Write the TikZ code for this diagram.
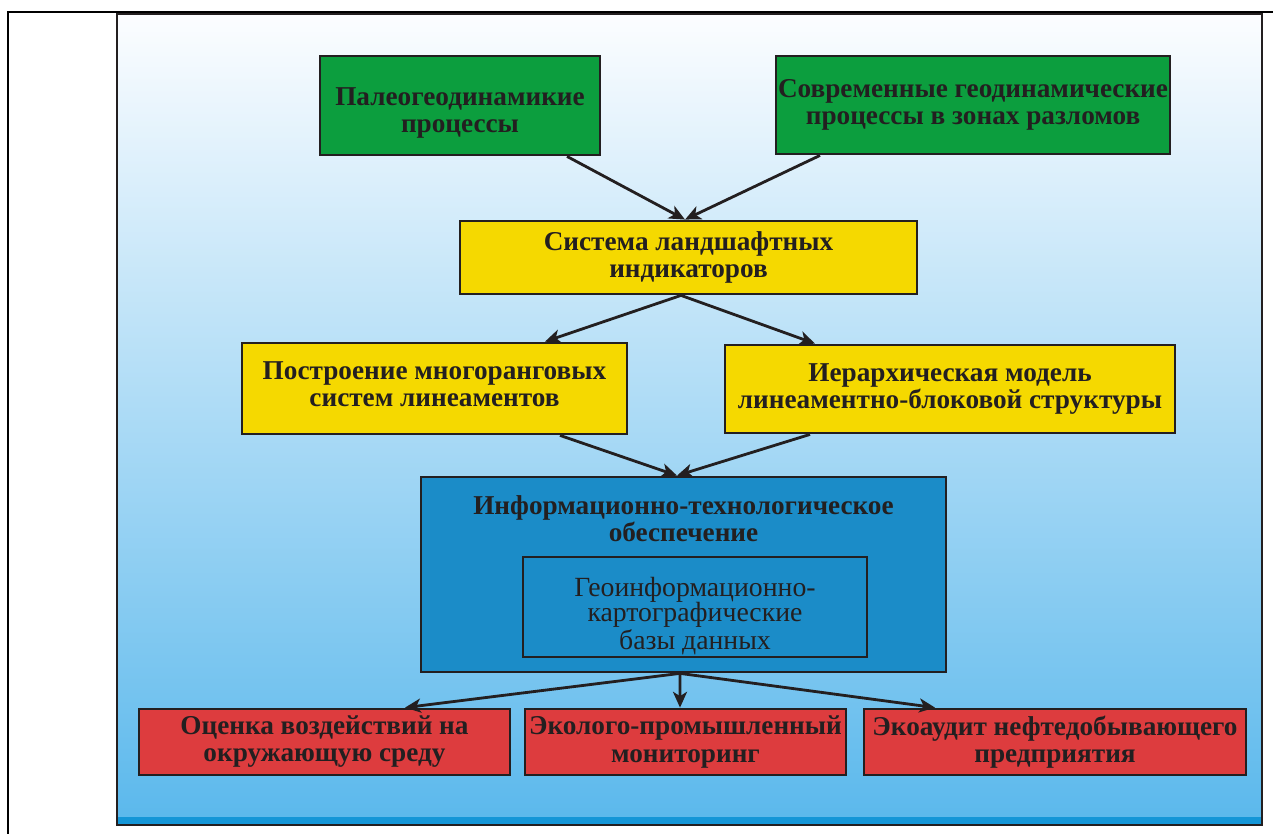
\documentclass[tikz,border=0pt]{standalone}
\usepackage{fontspec}
\setmainfont{Liberation Serif}
\usetikzlibrary{arrows.meta,positioning}
\definecolor{boxgreen}{RGB}{12,158,62}
\definecolor{boxyellow}{RGB}{245,217,0}
\definecolor{boxblue}{RGB}{27,140,200}
\definecolor{boxred}{RGB}{221,60,62}
\definecolor{inkdark}{RGB}{35,31,32}
\definecolor{skytop}{RGB}{252,253,255}
\definecolor{skybot}{RGB}{90,184,236}
\definecolor{skyedge}{RGB}{20,150,215}
\begin{document}
\begin{tikzpicture}[x=0.02cm,y=-0.02cm,>={Stealth[length=9pt,width=8pt,inset=2.5pt]},
  box/.style={draw=inkdark,line width=1.6pt,align=center,text=inkdark,
    font=\bfseries\fontsize{15.5}{15.4}\selectfont,inner sep=0pt},
  gbox/.style={box,fill=boxgreen},
  ybox/.style={box,fill=boxyellow},
  bbox/.style={box,fill=boxblue},
  rbox/.style={box,fill=boxred},
  arr/.style={->,draw=inkdark,line width=1.6pt}]
\useasboundingbox (0,0) rectangle (1273,834);
% frame and panel
\draw[line width=1.2pt] (8,834) -- (8,12) -- (1273,12);
\shade[top color=skytop,bottom color=skybot] (117,14) rectangle (1262,825);
\fill[skyedge] (117,817) rectangle (1262,825);
\draw[draw=inkdark,line width=1.6pt] (117,14) rectangle (1262,825);
% boxes
\node[gbox,minimum width=5.6cm,minimum height=1.98cm] (paleo) at (460,105.5) {\rule{0pt}{19pt}Палеогеодинамикие\\процессы};
\node[gbox,minimum width=7.88cm,minimum height=1.96cm] (modern) at (973,105) {Современные геодинамические\\процессы в зонах разломов};
\node[ybox,minimum width=9.14cm,minimum height=1.46cm] (indic) at (688.5,257.5) {Система ландшафтных\\индикаторов};
\node[ybox,minimum width=7.7cm,minimum height=1.82cm] (lineam) at (434.5,388.5) {Построение многоранговых\\систем линеаментов\rule[-5pt]{0pt}{5pt}};
\node[ybox,minimum width=9.0cm,minimum height=1.76cm] (hier) at (950,389) {Иерархическая модель\\линеаментно-блоковой структуры};
\node[bbox,minimum width=10.5cm,minimum height=3.9cm] (infotech) at (683.5,574.5) {};
\node[align=center,text=inkdark,font=\bfseries\fontsize{15.5}{15.4}\selectfont] (infotitle) at (683.5,519) {Информационно-технологическое\\обеспечение};
\node[draw=inkdark,line width=0.8pt,fill=boxblue,align=center,text=inkdark,inner sep=0pt,
  font=\fontsize{15.8}{14.6}\selectfont,minimum width=6.88cm,minimum height=2.0cm] (gisdb) at (695,607)
  {\rule{0pt}{21pt}Геоинформационно-\\картографические\\базы данных};
\node[rbox,minimum width=7.42cm,minimum height=1.32cm] (impact) at (324.5,742) {Оценка воздействий на\\окружающую среду};
\node[rbox,minimum width=6.42cm,minimum height=1.32cm] (monit) at (685.5,742) {Эколого-промышленный\\мониторинг};
\node[rbox,minimum width=7.64cm,minimum height=1.32cm] (audit) at (1055,742) {Экоаудит нефтедобывающего\\предприятия};
% connectors
\draw[arr] ([xshift=2.14cm]paleo.south) -- ([xshift=-0.07cm]indic.north);
\draw[arr] ([xshift=-3.06cm]modern.south) -- ([xshift=-0.07cm]indic.north);
\draw[arr] ([xshift=-0.15cm]indic.south) -- ([xshift=2.21cm]lineam.north);
\draw[arr] ([xshift=-0.15cm]indic.south) -- ([xshift=-2.7cm]hier.north);
\draw[arr] ([xshift=2.51cm]lineam.south) -- ([xshift=-0.13cm]infotech.north);
\draw[arr] ([xshift=-2.8cm]hier.south) -- ([xshift=-0.13cm]infotech.north);
\draw[arr] ([xshift=-0.07cm]infotech.south) -- ([xshift=1.61cm]impact.north);
\draw[arr] ([xshift=-0.07cm]infotech.south) -- ([xshift=-0.11cm]monit.north);
\draw[arr] ([xshift=-0.07cm]infotech.south) -- ([xshift=-2.4cm]audit.north);
\end{tikzpicture}
\end{document}
